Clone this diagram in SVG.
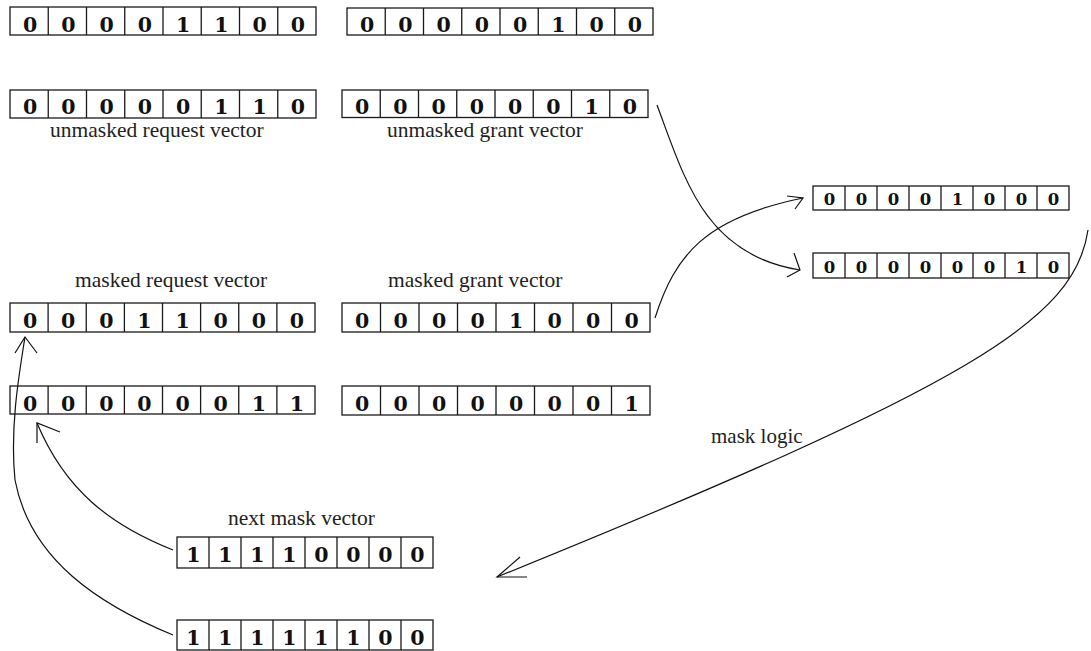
<svg xmlns="http://www.w3.org/2000/svg" width="1091" height="651" viewBox="0 0 1091 651">
<style>
.box{fill:#fff;stroke:#1a1a1a;stroke-width:1.3}
.div{fill:none;stroke:#1a1a1a;stroke-width:1.3}
.d{font-family:"DejaVu Serif",serif;font-weight:bold;font-size:20.5px;fill:#111;text-anchor:middle}
.ds{font-family:"DejaVu Serif",serif;font-weight:bold;font-size:16.5px;fill:#111;text-anchor:middle}
.lbl{font-family:"Liberation Serif",serif;font-size:21.5px;fill:#222}
.con{fill:none;stroke:#111;stroke-width:1.2}
</style>
<rect width="1091" height="651" fill="#fff"/>

<g id="unmasked-req-1" transform="translate(10,7)">
<rect class="box" width="306" height="28"/>
<path class="div" d="M38.25,0v28M76.5,0v28M114.75,0v28M153,0v28M191.25,0v28M229.5,0v28M267.75,0v28"/>
<g class="d"><text x="20.1" y="24.7">0</text><text x="58.4" y="24.7">0</text><text x="96.6" y="24.7">0</text><text x="134.9" y="24.7">0</text><text x="173.1" y="24.7">1</text><text x="211.4" y="24.7">1</text><text x="249.6" y="24.7">0</text><text x="287.9" y="24.7">0</text></g>
</g>

<g id="unmasked-grant-1" transform="translate(347,8)">
<rect class="box" width="306" height="27"/>
<path class="div" d="M38.25,0v27M76.5,0v27M114.75,0v27M153,0v27M191.25,0v27M229.5,0v27M267.75,0v27"/>
<g class="d"><text x="20.1" y="24">0</text><text x="58.4" y="24">0</text><text x="96.6" y="24">0</text><text x="134.9" y="24">0</text><text x="173.1" y="24">0</text><text x="211.4" y="24">1</text><text x="249.6" y="24">0</text><text x="287.9" y="24">0</text></g>
</g>

<g id="unmasked-req-2" transform="translate(10,90)">
<rect class="box" width="306" height="28"/>
<path class="div" d="M38.25,0v28M76.5,0v28M114.75,0v28M153,0v28M191.25,0v28M229.5,0v28M267.75,0v28"/>
<g class="d"><text x="20.1" y="24">0</text><text x="58.4" y="24">0</text><text x="96.6" y="24">0</text><text x="134.9" y="24">0</text><text x="173.1" y="24">0</text><text x="211.4" y="24">1</text><text x="249.6" y="24">1</text><text x="287.9" y="24">0</text></g>
<text class="lbl" x="40" y="47">unmasked request vector</text>
</g>

<g id="unmasked-grant-2" transform="translate(342,90)">
<rect class="box" width="306" height="27.5"/>
<path class="div" d="M38.25,0v27.5M76.5,0v27.5M114.75,0v27.5M153,0v27.5M191.25,0v27.5M229.5,0v27.5M267.75,0v27.5"/>
<g class="d"><text x="20.1" y="24">0</text><text x="58.4" y="24">0</text><text x="96.6" y="24">0</text><text x="134.9" y="24">0</text><text x="173.1" y="24">0</text><text x="211.4" y="24">0</text><text x="249.6" y="24">1</text><text x="287.9" y="24">0</text></g>
<text class="lbl" x="45" y="47">unmasked grant vector</text>
</g>

<g id="right-a" transform="translate(813,186)">
<rect class="box" width="256" height="24"/>
<path class="div" d="M32,0v24M64,0v24M96,0v24M128,0v24M160,0v24M192,0v24M224,0v24"/>
<g class="ds"><text x="16.5" y="19">0</text><text x="48.5" y="19">0</text><text x="80.5" y="19">0</text><text x="112.5" y="19">0</text><text x="144.5" y="19">1</text><text x="176.5" y="19">0</text><text x="208.5" y="19">0</text><text x="240.5" y="19">0</text></g>
</g>

<g id="right-b" transform="translate(813,253)">
<rect class="box" width="256" height="25"/>
<path class="div" d="M32,0v25M64,0v25M96,0v25M128,0v25M160,0v25M192,0v25M224,0v25"/>
<g class="ds"><text x="16.5" y="19.5">0</text><text x="48.5" y="19.5">0</text><text x="80.5" y="19.5">0</text><text x="112.5" y="19.5">0</text><text x="144.5" y="19.5">0</text><text x="176.5" y="19.5">0</text><text x="208.5" y="19.5">1</text><text x="240.5" y="19.5">0</text></g>
</g>

<g id="masked-req-1" transform="translate(10,303)">
<rect class="box" width="305" height="29"/>
<path class="div" d="M38.1,0v29M76.25,0v29M114.4,0v29M152.5,0v29M190.6,0v29M228.75,0v29M266.9,0v29"/>
<g class="d"><text x="20.1" y="25">0</text><text x="58.2" y="25">0</text><text x="96.3" y="25">0</text><text x="134.4" y="25">1</text><text x="172.6" y="25">1</text><text x="210.7" y="25">0</text><text x="248.8" y="25">0</text><text x="287" y="25">0</text></g>
<text class="lbl" x="65" y="-16">masked request vector</text>
</g>

<g id="masked-grant-1" transform="translate(342,303)">
<rect class="box" width="308" height="29"/>
<path class="div" d="M38.5,0v29M77,0v29M115.5,0v29M154,0v29M192.5,0v29M231,0v29M269.5,0v29"/>
<g class="d"><text x="20.25" y="25">0</text><text x="58.75" y="25">0</text><text x="97.25" y="25">0</text><text x="135.75" y="25">0</text><text x="174.25" y="25">1</text><text x="212.75" y="25">0</text><text x="251.25" y="25">0</text><text x="289.75" y="25">0</text></g>
<text class="lbl" x="46" y="-16">masked grant vector</text>
</g>

<g id="masked-req-2" transform="translate(10,386)">
<rect class="box" width="305" height="28"/>
<path class="div" d="M38.1,0v28M76.25,0v28M114.4,0v28M152.5,0v28M190.6,0v28M228.75,0v28M266.9,0v28"/>
<g class="d"><text x="20.1" y="24.5">0</text><text x="58.2" y="24.5">0</text><text x="96.3" y="24.5">0</text><text x="134.4" y="24.5">0</text><text x="172.6" y="24.5">0</text><text x="210.7" y="24.5">0</text><text x="248.8" y="24.5">1</text><text x="287" y="24.5">1</text></g>
</g>

<g id="masked-grant-2" transform="translate(342,386)">
<rect class="box" width="308" height="29"/>
<path class="div" d="M38.5,0v29M77,0v29M115.5,0v29M154,0v29M192.5,0v29M231,0v29M269.5,0v29"/>
<g class="d"><text x="20.25" y="25">0</text><text x="58.75" y="25">0</text><text x="97.25" y="25">0</text><text x="135.75" y="25">0</text><text x="174.25" y="25">0</text><text x="212.75" y="25">0</text><text x="251.25" y="25">0</text><text x="289.75" y="25">1</text></g>
</g>

<g id="next-mask" transform="translate(177,537)">
<rect class="box" width="256" height="31"/>
<path class="div" d="M32,0v31M64,0v31M96,0v31M128,0v31M160,0v31M192,0v31M224,0v31"/>
<g class="d"><text x="16.5" y="25">1</text><text x="48.5" y="25">1</text><text x="80.5" y="25">1</text><text x="112.5" y="25">1</text><text x="144.5" y="25">0</text><text x="176.5" y="25">0</text><text x="208.5" y="25">0</text><text x="240.5" y="25">0</text></g>
<text class="lbl" x="51" y="-12">next mask vector</text>
</g>

<g id="bottom-mask" transform="translate(177,620)">
<rect class="box" width="256" height="30"/>
<path class="div" d="M32,0v30M64,0v30M96,0v30M128,0v30M160,0v30M192,0v30M224,0v30"/>
<g class="d"><text x="16.5" y="25">1</text><text x="48.5" y="25">1</text><text x="80.5" y="25">1</text><text x="112.5" y="25">1</text><text x="144.5" y="25">1</text><text x="176.5" y="25">1</text><text x="208.5" y="25">0</text><text x="240.5" y="25">0</text></g>
</g>

<g id="connectors">
<path class="con" d="M657,105 C685,180 705,255 800,270"/>
<path class="con" d="M794,253 L800,270 L787,277"/>
<path class="con" d="M655,318 C675,255 705,218 803,198"/>
<path class="con" d="M787,196 L803,198 L795,209"/>
<path class="con" d="M1088,230 C1075,320 970,385 497,577"/>
<path class="con" d="M520,557 L497,577 L527,577"/>
<text class="lbl" x="711" y="443" style="font-size:21px">mask logic</text>
<path class="con" d="M173,550 C110,525 65,490 37,423"/>
<path class="con" d="M60,432 L37,423 L37,443"/>
<path class="con" d="M173,635 C100,605 30,560 15,480 C10,430 18,380 25,337"/>
<path class="con" d="M15,353 L25,337 L37,353"/>
</g>
</svg>
